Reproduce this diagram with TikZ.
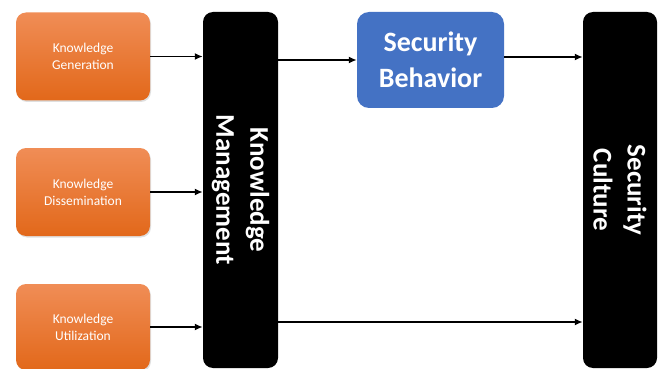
\documentclass[tikz,border=0pt]{standalone}
\usepackage{fontspec}
\setmainfont{Carlito}
\usetikzlibrary{arrows.meta, positioning, shadows}

\definecolor{srctop}{HTML}{F08D56}
\definecolor{srcmid}{HTML}{F17D2C}
\definecolor{srcbot}{HTML}{E2681A}
\definecolor{sbblue}{HTML}{4472C4}

\begin{document}
\begin{tikzpicture}[
  x=1pt, y=-1pt,
  source/.style={rounded corners=10pt, top color=srctop, middle color=srcmid, bottom color=srcbot,
    minimum width=134pt, minimum height=88pt, align=center, text=white, font=\fontsize{13.5}{17}\selectfont,
    drop shadow={shadow xshift=1pt, shadow yshift=-1.5pt, opacity=0.25}},
  bar/.style={fill=black, rounded corners=10pt, minimum width=75pt, minimum height=356pt},
  bartext/.style={rotate=-90, align=center, text=white, font=\fontsize{27}{34}\selectfont\bfseries},
  result/.style={fill=sbblue, rounded corners=12pt, minimum width=147pt, minimum height=96pt,
    align=center, text=white, font=\fontsize{28}{36}\selectfont\bfseries},
  arrow/.style={-{Latex[length=8pt, width=7pt]}, line width=1.8pt}
]
  \useasboundingbox (0,0) rectangle (662,369);
  \clip (0,0) rectangle (662,369);

  \node[source] (gen) at (83,56.5) {Knowledge\\Generation};
  \node[source] (dis) at (83,192) {Knowledge\\Dissemination};
  \node[source, minimum height=86pt] (util) at (83,327) {Knowledge\\Utilization};

  \node[bar] (km) at (240.5,190) {};
  \node[bartext] (kmtext) at (km) {Knowledge\\Management};

  \node[result] (sb) at (430.5,60) {Security\\Behavior};

  \node[bar, minimum width=74pt] (sc) at (620,190) {};
  \node[bartext] (sctext) at (sc) {Security\\Culture};

  \draw[arrow] (gen.east) -- (gen.east -| km.west);
  \draw[arrow] (dis.east) -- (dis.east -| km.west);
  \draw[arrow] (util.east) -- (util.east -| km.west);
  \draw[arrow] (km.east |- sb.west) -- (sb.west);
  \draw[arrow] ([yshift=3pt]sb.east) -- ([yshift=3pt]sb.east -| sc.west);
  \draw[arrow] ([yshift=5pt]km.east |- util.center) -- ([yshift=5pt]sc.west |- util.center);
\end{tikzpicture}
\end{document}
